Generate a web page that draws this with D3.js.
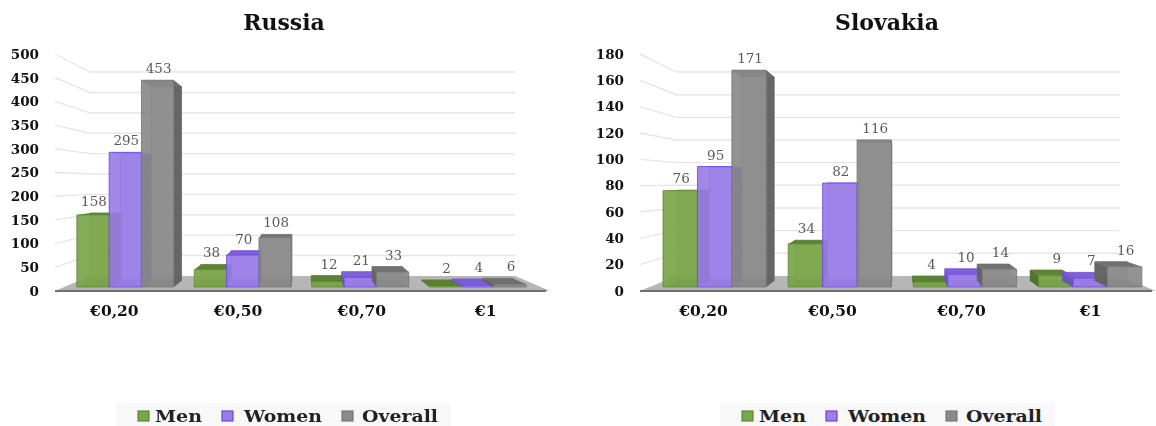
<!DOCTYPE html>
<html><head><meta charset="utf-8">
<script src="https://cdn.jsdelivr.net/npm/d3@7"></script>
<style>
html,body{margin:0;padding:0;background:#fff;overflow:hidden}
svg{display:block;filter:blur(0.55px)}
text{font-family:"DejaVu Serif",serif}
</style></head><body>
<svg id="c" width="1156" height="426"></svg>
<script>
const categories = ["€0,20","€0,50","€0,70","€1"];
const seriesNames = ["Men","Women","Overall"];
const russiaMen = [158,38,12,2];
const russiaWomen = [295,70,21,4];
const russiaOverall = [453,108,33,6];
const slovakiaMen = [76,34,4,9];
const slovakiaWomen = [95,82,10,7];
const slovakiaOverall = [171,116,14,16];
const russiaTicks = [0,50,100,150,200,250,300,350,400,450,500];
const slovakiaTicks = [0,20,40,60,80,100,120,140,160,180];

const colors = {
  Men:{front:"#7aa549",edge:"#5f8a35",top:"#587f32",side:"#4e702c"},
  Women:{front:"#9a7de8",edge:"#6a46e2",top:"#7a5cd8",side:"#6a52b8"},
  Overall:{front:"#8a8a8a",edge:"#777777",top:"#6e6e6e",side:"#626262"}
};
const svg = d3.select("#c");
const vy = 183, floorY = 291, topY = 54, sFront = .963, sBack = .905, sWall = .86;

function panel(cfg){
  const g = svg.append("g");
  const cx = (cfg.left+cfg.right)/2;
  const y = d3.scaleLinear().domain([0,cfg.max]).range([floorY,topY]);
  const axisX = d3.scaleBand().domain(categories).range([cfg.left+cfg.axisShift,cfg.right+cfg.axisShift]);
  const barGroup = d3.scaleBand().domain(categories).range([cfg.barL,cfg.barR]).paddingInner(.175).paddingOuter(.0875);
  const barX = d3.scaleBand().domain(seriesNames).range([0,barGroup.bandwidth()]);
  const P = (px,py,s)=>[cx+(px-cx)*s, vy+(py-vy)*s];
  const poly = pts=>pts.map(p=>p.join(",")).join(" ");

  g.append("text").attr("x",cfg.titleX).attr("y",30).attr("text-anchor","middle")
    .attr("font-size",22).attr("font-weight",700).attr("fill","#111").text(cfg.title);

  g.append("polygon").attr("fill","#b6b6b6")
    .attr("points",poly([P(cfg.left,floorY,1),P(cfg.left,floorY,sWall),P(cfg.right,floorY,sWall),P(cfg.right,floorY,1)]));

  cfg.ticks.filter(t=>t>0).forEach(t=>{
    const a=P(cfg.left,y(t),1), b=P(cfg.left,y(t),sWall), c=P(cfg.right,y(t),sWall);
    g.append("polyline").attr("fill","none").attr("stroke","#e6e6e6").attr("stroke-width",1.4)
      .attr("points",poly([a,b,c]));
  });

  g.append("line").attr("x1",cfg.left).attr("x2",cfg.right-4).attr("y1",floorY).attr("y2",floorY)
    .attr("stroke","#707070").attr("stroke-width",2);

  const labels=[];
  categories.forEach((cat,i)=>{
    seriesNames.forEach((name,j)=>{
      const v = cfg.series[j][i], col = colors[name];
      const x0 = barGroup(cat)+barX(name), x1 = x0+barX.bandwidth();
      const yt = y(v), yb = y(0);
      const f = (x,yy)=>P(x,yy,sFront), b=(x,yy)=>P(x,yy,sBack);
      const bar = g.append("g");
      const face=(pts,fill,op,stroke)=>bar.append("polygon").attr("points",poly(pts))
        .attr("fill",fill).attr("fill-opacity",op)
        .attr("stroke",stroke||"none").attr("stroke-width",stroke?1:0).attr("stroke-opacity",.8);
      face([b(x0,yb),b(x1,yb),b(x1,yt),b(x0,yt)],col.front,.6,col.edge);
      face([f(x0,yb),f(x1,yb),b(x1,yb),b(x0,yb)],col.side,.6);
      const rightOuter = f(x1,yt)[0] < cx;
      const leftOuter = f(x0,yt)[0] > cx;
      face([f(x0,yb),f(x0,yt),b(x0,yt),b(x0,yb)],col.side,leftOuter?.95:.25);
      face([f(x1,yb),f(x1,yt),b(x1,yt),b(x1,yb)],col.side,rightOuter?.95:.25);
      face([f(x0,yt),f(x1,yt),b(x1,yt),b(x0,yt)],col.top,.95);
      face([f(x0,yb),f(x1,yb),f(x1,yt),f(x0,yt)],col.front,.88,col.edge);
      labels.push({x:(f(x0,yt)[0]+f(x1,yt)[0])/2+1, y:Math.min(b(x0,yt)[1],f(x0,yt)[1])-7, v});
    });
  });
  g.selectAll("text.val").data(labels).join("text").attr("class","val")
    .attr("x",d=>d.x).attr("y",d=>d.y).attr("text-anchor","middle")
    .attr("font-size",13.5).attr("fill","#5a5a5a").text(d=>d.v);

  const ya = g.append("g").attr("transform",`translate(${cfg.left},0)`)
    .call(d3.axisLeft(y).tickValues(cfg.ticks).tickSize(0).tickPadding(cfg.pad));
  const xa = g.append("g").attr("transform",`translate(0,${floorY})`)
    .call(d3.axisBottom(axisX).tickSize(0).tickPadding(14));
  [ya,xa].forEach(a=>{a.select(".domain").remove();
    a.selectAll("text").attr("font-family","DejaVu Serif").attr("font-weight",700).attr("fill","#111");});
  ya.selectAll("text").attr("font-size",13.5);
  xa.selectAll("text").attr("font-size",15.5);

  const lg = g.append("g");
  lg.append("rect").attr("x",cfg.legendX).attr("y",403).attr("width",335).attr("height",23).attr("fill","#f8f8f8");
  const swatchX = d3.scaleOrdinal().domain(seriesNames).range([22,106,226]);
  const textX = d3.scaleOrdinal().domain(seriesNames).range([39,128,246]);
  const textW = d3.scaleOrdinal().domain(seriesNames).range([47,78,76]);
  seriesNames.forEach(n=>{
    lg.append("rect").attr("x",cfg.legendX+swatchX(n)).attr("y",411).attr("width",11).attr("height",10)
      .attr("fill",colors[n].front).attr("stroke",colors[n].edge).attr("stroke-width",1.2);
    lg.append("text").attr("x",cfg.legendX+textX(n)).attr("y",422).attr("font-size",16.5)
      .attr("textLength",textW(n)).attr("lengthAdjust","spacingAndGlyphs")
      .attr("font-weight",700).attr("fill","#222").text(n);
  });
}

panel({title:"Russia",titleX:284,left:55,right:550,axisShift:-2.5,barL:57.5,barR:545.5,max:500,ticks:russiaTicks,
  series:[russiaMen,russiaWomen,russiaOverall],pad:16,legendX:116});
panel({title:"Slovakia",titleX:887,left:640,right:1156,axisShift:-1,barL:642.6,barR:1162.6,max:180,ticks:slovakiaTicks,
  series:[slovakiaMen,slovakiaWomen,slovakiaOverall],pad:16,legendX:720});
</script>
</body></html>
